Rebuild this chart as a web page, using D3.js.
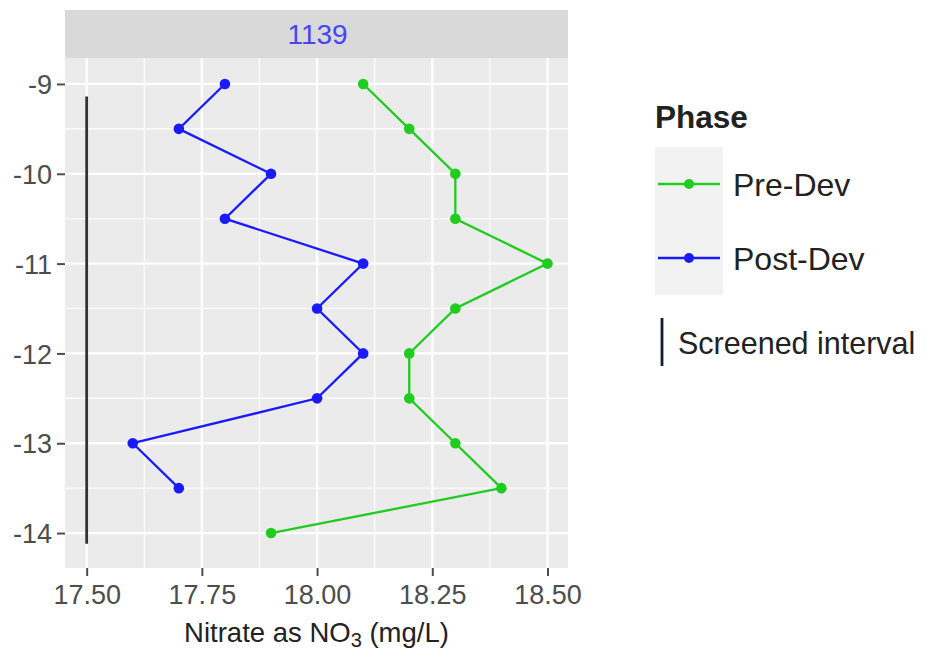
<!DOCTYPE html>
<html>
<head>
<meta charset="utf-8">
<script src="https://cdn.jsdelivr.net/npm/d3@7"></script>
<style>
  html, body { margin: 0; padding: 0; background: #fff; }
  svg { display: block; font-family: "Liberation Sans", Arial, sans-serif; }
</style>
</head>
<body>
<svg id="chart" width="928" height="650"></svg>
<script>
// Nitrate profile for well 1139, by depth and development phase
const stripLabel = "1139";
const phases = ["Pre-Dev", "Post-Dev"];
const phaseColors = ["#1fcc1f", "#1a1aff"];

const preDepth   = [-9, -9.5, -10, -10.5, -11, -11.5, -12, -12.5, -13, -13.5, -14];
const preNitrate = [18.1, 18.2, 18.3, 18.3, 18.5, 18.3, 18.2, 18.2, 18.3, 18.4, 17.9];

const postDepth   = [-9, -9.5, -10, -10.5, -11, -11.5, -12, -12.5, -13, -13.5];
const postNitrate = [17.8, 17.7, 17.9, 17.8, 18.1, 18.0, 18.1, 18.0, 17.6, 17.7];

// Screened interval of the well (depth top / bottom) drawn at a fixed x
const screenX = 17.5;
const screenDepths = [-9.14, -14.12];

const xTicks = [17.5, 17.75, 18.0, 18.25, 18.5];
const xMinor = [17.625, 17.875, 18.125, 18.375];
const yTicks = [-9, -10, -11, -12, -13, -14];
const yMinor = [-9.5, -10.5, -11.5, -12.5, -13.5];

const svg = d3.select("#chart");

const panel = { left: 65, right: 568, top: 58, bottom: 568 };
const strip = { top: 10, bottom: 58 };

const x = d3.scaleLinear().domain([17.453, 18.5445]).range([panel.left, panel.right]);
const y = d3.scaleLinear().domain([-8.711, -14.389]).range([panel.top, panel.bottom]);

// strip
svg.append("rect")
  .attr("x", panel.left).attr("y", strip.top)
  .attr("width", panel.right - panel.left).attr("height", strip.bottom - strip.top)
  .attr("fill", "#d9d9d9");
svg.append("text")
  .attr("x", (panel.left + panel.right) / 2 + 1).attr("y", (strip.top + strip.bottom) / 2)
  .attr("dy", "0.36em").attr("text-anchor", "middle")
  .attr("font-size", 28).attr("fill", "#4646f2")
  .text(stripLabel);

// panel background
svg.append("rect")
  .attr("x", panel.left).attr("y", panel.top)
  .attr("width", panel.right - panel.left).attr("height", panel.bottom - panel.top)
  .attr("fill", "#ebebeb");

const grid = svg.append("g");
grid.selectAll(".vminor").data(xMinor).join("line")
  .attr("x1", d => x(d)).attr("x2", d => x(d))
  .attr("y1", panel.top).attr("y2", panel.bottom)
  .attr("stroke", "#fff").attr("stroke-width", 1.1);
grid.selectAll(".hminor").data(yMinor).join("line")
  .attr("y1", d => y(d)).attr("y2", d => y(d))
  .attr("x1", panel.left).attr("x2", panel.right)
  .attr("stroke", "#fff").attr("stroke-width", 1.1);
grid.selectAll(".vmajor").data(xTicks).join("line")
  .attr("x1", d => x(d)).attr("x2", d => x(d))
  .attr("y1", panel.top).attr("y2", panel.bottom)
  .attr("stroke", "#fff").attr("stroke-width", 2.3);
grid.selectAll(".hmajor").data(yTicks).join("line")
  .attr("y1", d => y(d)).attr("y2", d => y(d))
  .attr("x1", panel.left).attr("x2", panel.right)
  .attr("stroke", "#fff").attr("stroke-width", 2.3);

// screened interval
svg.append("line")
  .attr("x1", x(screenX)).attr("x2", x(screenX))
  .attr("y1", y(screenDepths[0])).attr("y2", y(screenDepths[1]))
  .attr("stroke", "#333").attr("stroke-width", 2.8);

// series
const series = [
  { name: phases[0], color: phaseColors[0], pts: preDepth.map((d, i) => ({ depth: d, v: preNitrate[i] })) },
  { name: phases[1], color: phaseColors[1], pts: postDepth.map((d, i) => ({ depth: d, v: postNitrate[i] })) }
];
const line = d3.line().x(d => x(d.v)).y(d => y(d.depth));
series.forEach(s => {
  svg.append("path").datum(s.pts)
    .attr("d", line).attr("fill", "none")
    .attr("stroke", s.color).attr("stroke-width", 2.3);
  svg.append("g").selectAll("circle").data(s.pts).join("circle")
    .attr("cx", d => x(d.v)).attr("cy", d => y(d.depth)).attr("r", 5.3)
    .attr("fill", s.color);
});

// axes
const xAxis = d3.axisBottom(x).tickValues(xTicks).tickFormat(d3.format(".2f")).tickSize(8).tickPadding(9);
const yAxis = d3.axisLeft(y).tickValues(yTicks).tickFormat(d => String(d)).tickSize(8).tickPadding(5);

const gx = svg.append("g").attr("transform", `translate(0,${panel.bottom})`).call(xAxis);
const gy = svg.append("g").attr("transform", `translate(${panel.left},0)`).call(yAxis);
[gx, gy].forEach(g => {
  g.select(".domain").remove();
  g.selectAll(".tick line").attr("stroke", "#4d4d4d").attr("stroke-width", 2);
  g.selectAll(".tick text").attr("fill", "#4d4d4d").attr("font-size", 27)
    .attr("font-family", "Liberation Sans, Arial, sans-serif");
});
gy.selectAll(".tick text").attr("dy", "0.36em");

// x axis title with subscript
const xt = svg.append("text")
  .attr("x", (panel.left + panel.right) / 2).attr("y", 642)
  .attr("text-anchor", "middle").attr("font-size", 27.5).attr("fill", "#222");
xt.append("tspan").text("Nitrate as NO");
xt.append("tspan").attr("font-size", 20).attr("dy", 5).text("3");
xt.append("tspan").attr("dy", -5).text(" (mg/L)");

// legend
const lg = svg.append("g");
lg.append("text").attr("x", 655).attr("y", 128)
  .attr("font-size", 31.5).attr("font-weight", "bold").attr("fill", "#222").text("Phase");
const keyH = 74, keyTop = 147;
series.forEach((s, i) => {
  const ky = keyTop + i * keyH;
  lg.append("rect").attr("x", 655).attr("y", ky).attr("width", 68).attr("height", keyH)
    .attr("fill", "#f2f2f2");
  lg.append("line").attr("x1", 658).attr("x2", 720).attr("y1", ky + keyH / 2).attr("y2", ky + keyH / 2)
    .attr("stroke", s.color).attr("stroke-width", 2.6);
  lg.append("circle").attr("cx", 689).attr("cy", ky + keyH / 2).attr("r", 5).attr("fill", s.color);
  lg.append("text").attr("x", 733).attr("y", ky + keyH / 2).attr("dy", "0.36em")
    .attr("font-size", 32).attr("fill", "#222").text(s.name);
});
lg.append("line").attr("x1", 662).attr("x2", 662).attr("y1", 318).attr("y2", 366)
  .attr("stroke", "#1a1a33").attr("stroke-width", 2.8);
lg.append("text").attr("x", 678).attr("y", 343).attr("dy", "0.36em")
  .attr("font-size", 30.5).attr("fill", "#222").text("Screened interval");
</script>
</body>
</html>
